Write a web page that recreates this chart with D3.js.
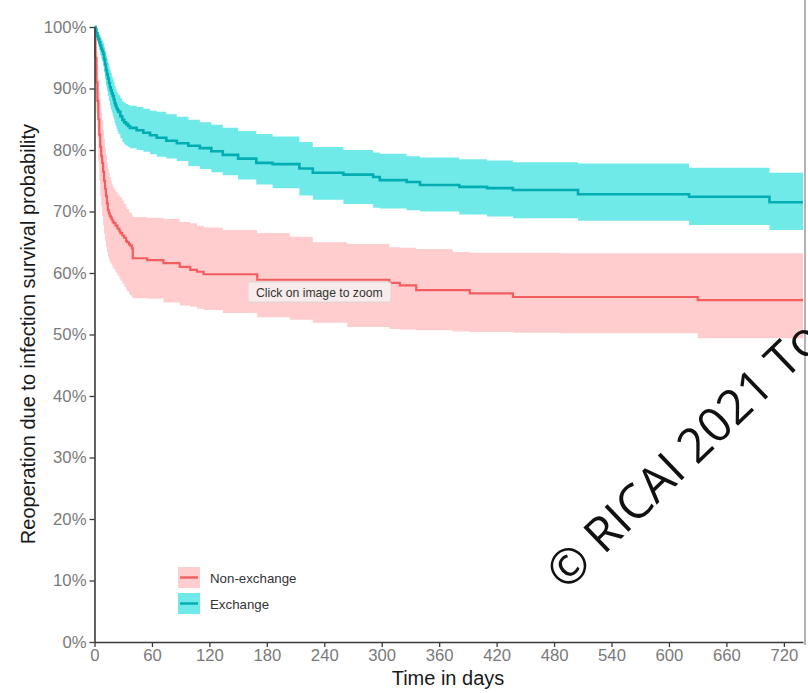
<!DOCTYPE html>
<html>
<head>
<meta charset="utf-8">
<script src="https://cdn.jsdelivr.net/npm/d3@7"></script>
<style>
  body { margin: 0; background: #fff; }
  svg { display: block; }
</style>
</head>
<body>
<svg id="chart" width="808" height="693"></svg>
<script>
// Exchange group (days, survival %, lower CI %, upper CI %)
const exTime  = [0, 1, 2, 3, 4, 5, 6, 7, 8, 9, 10, 11, 12, 13, 14, 15, 16, 17, 18, 19, 20, 21, 22, 23, 24, 25, 27, 29, 31, 33, 35, 37, 44, 51, 58, 65, 75, 86, 98, 110, 122, 134, 150, 169, 186, 214, 228, 260, 291, 298, 326, 340, 381, 410, 437, 505, 621, 705];
const exSurv  = [100, 99.6, 99, 98.5, 98, 97.5, 97, 96.5, 96.1, 95.6, 94.8, 93.9, 93, 92.3, 91.6, 90.9, 90.2, 89.7, 89.2, 88.8, 88.2, 87.6, 87.2, 86.8, 86.5, 86.2, 85.5, 84.9, 84.5, 84.2, 83.9, 83.6, 83.2, 82.8, 82.4, 82.0, 81.5, 81.1, 80.7, 80.3, 79.8, 79.2, 78.6, 77.9, 77.7, 77.0, 76.3, 76.0, 75.6, 75.1, 74.8, 74.3, 74.0, 73.8, 73.5, 72.8, 72.4, 71.5];
const exLower = [100, 99.3, 98.3, 97.6, 96.9, 96.2, 95.4, 94.8, 94.3, 93.6, 92.6, 91.5, 90.4, 89.6, 88.8, 88.0, 87.2, 86.6, 86.1, 85.6, 85.0, 84.4, 83.9, 83.4, 83.0, 82.6, 81.9, 81.3, 80.9, 80.7, 80.5, 80.3, 80.0, 79.7, 79.3, 78.9, 78.6, 78.2, 77.4, 76.9, 76.4, 75.9, 75.2, 74.4, 73.8, 72.6, 71.9, 71.2, 70.6, 70.5, 70.2, 70.0, 69.5, 69.2, 68.9, 68.5, 67.8, 67.0];
const exUpper = [100, 99.9, 99.6, 99.3, 99.0, 98.7, 98.4, 98.1, 97.8, 97.4, 96.8, 96.1, 95.4, 94.8, 94.2, 93.6, 93.0, 92.5, 92.0, 91.6, 91.0, 90.4, 89.9, 89.5, 89.2, 88.9, 88.4, 87.9, 87.7, 87.5, 87.3, 87.2, 87.0, 86.7, 86.4, 86.2, 85.8, 85.4, 84.9, 84.5, 84.1, 83.6, 83.1, 82.6, 82.2, 81.3, 80.5, 80.0, 79.6, 79.4, 79.0, 78.8, 78.5, 78.3, 78.0, 77.8, 77.1, 76.3];

// Non-exchange group
const neTime  = [0, 1, 2, 3, 4, 5, 6, 7, 8, 9, 10, 11, 12, 13, 14, 15, 16, 17, 18, 19, 20, 22, 24, 26, 27, 29, 31, 33, 34, 36, 37, 39, 40, 55, 72, 89, 100, 107, 114, 134, 170, 204, 228, 264, 308, 319, 336, 374, 392, 437, 486, 630];
const neSurv  = [100, 95, 91, 88, 85, 82.5, 80.5, 79, 77.9, 76.5, 75, 73.7, 72.5, 71.3, 70.2, 69.7, 69.3, 69, 68.7, 68.4, 68.1, 67.7, 67.2, 66.8, 66.5, 66.1, 65.7, 65.2, 65, 64.7, 64.5, 64, 62.4, 62.1, 61.6, 61.0, 60.5, 60.2, 59.8, 59.8, 58.9, 58.9, 58.9, 58.9, 58.4, 58.0, 57.2, 57.2, 56.7, 56.1, 56.1, 55.6];
const neLower = [100, 91.5, 86, 82, 78, 75, 72.5, 70.8, 69.3, 67.8, 66.4, 65.2, 64.2, 63.4, 62.7, 62.2, 61.8, 61.5, 61.2, 60.9, 60.6, 60.1, 59.6, 59.1, 58.8, 58.3, 57.8, 57.3, 57.0, 56.6, 56.4, 56.1, 55.9, 55.8, 55.2, 54.7, 54.5, 54.2, 54.0, 53.5, 52.8, 52.4, 51.9, 51.2, 50.9, 50.8, 50.7, 50.5, 50.4, 50.3, 50.2, 49.4];
const neUpper = [100, 98.5, 96, 93.8, 91.5, 89.5, 87.6, 86, 84.6, 83.2, 81.8, 80.4, 79.2, 78, 76.9, 76.2, 75.6, 75, 74.5, 74.1, 73.7, 73.2, 72.8, 72.5, 72.3, 71.8, 71.2, 70.7, 70.4, 70.0, 69.8, 69.4, 69.1, 69.0, 68.8, 68.3, 68.1, 67.7, 67.4, 67.0, 66.5, 65.9, 65.0, 64.7, 64.2, 64.1, 63.9, 63.4, 63.3, 63.3, 63.2, 63.2];

const xTicks = d3.range(0, 721, 60);
const yTicks = d3.range(0, 101, 10);
const seriesNames = ['Non-exchange', 'Exchange'];
const tMax = 740;

const svg = d3.select('#chart');
const x = d3.scaleLinear().domain([0, tMax]).range([94.5, 803]);
const y = d3.scaleLinear().domain([0, 100]).range([642, 27]);

const toRows = (t, s, lo, hi) => t.map((d, i) => ({ t: d, s: s[i], lo: lo[i], hi: hi[i] }))
  .concat([{ t: tMax, s: s[s.length - 1], lo: lo[lo.length - 1], hi: hi[hi.length - 1] }]);

const groups = [
  { name: seriesNames[0], rows: toRows(neTime, neSurv, neLower, neUpper), line: '#f35d60', band: '#ffcdcd' },
  { name: seriesNames[1], rows: toRows(exTime, exSurv, exLower, exUpper), line: '#00adb3', band: '#70e9e9' }
];

const area = d3.area().curve(d3.curveStepAfter)
  .x(d => x(d.t)).y0(d => y(d.lo)).y1(d => y(d.hi));
const line = d3.line().curve(d3.curveStepAfter)
  .x(d => x(d.t)).y(d => y(d.s));

const plot = svg.append('g');
plot.selectAll('.band').data(groups).join('path')
  .attr('class', 'band')
  .attr('d', g => area(g.rows))
  .attr('fill', g => g.band);
plot.selectAll('.curve').data(groups).join('path')
  .attr('class', 'curve')
  .attr('d', g => line(g.rows))
  .attr('fill', 'none')
  .attr('stroke', g => g.line)
  .attr('stroke-width', (g, i) => i ? 2.6 : 2.2);

// axes
const xAxis = svg.append('g').attr('transform', 'translate(0,642)')
  .call(d3.axisBottom(x).tickValues(xTicks).tickSize(5).tickPadding(2).tickSizeOuter(0));
const yAxis = svg.append('g').attr('transform', 'translate(94.5,0)')
  .call(d3.axisLeft(y).tickValues(yTicks).tickSize(5).tickPadding(3).tickSizeOuter(0)
    .tickFormat(d => d + '%'));
[xAxis, yAxis].forEach(a => {
  a.select('.domain').attr('stroke', '#3a3a3a').attr('stroke-width', 1.6);
  a.selectAll('.tick line').attr('stroke', '#3a3a3a').attr('stroke-width', 1.3);
  a.selectAll('.tick text').attr('fill', '#7a7a7a')
    .style('font-family', '"Liberation Sans", Arial, sans-serif').style('font-size', '16.7px');
});

// right frame line
svg.append('line').attr('x1', 805).attr('x2', 805).attr('y1', 0).attr('y2', 645)
  .attr('stroke', '#9a9a9a').attr('stroke-width', 1.5);

// axis titles
svg.append('text').attr('x', 448).attr('y', 685).attr('text-anchor', 'middle')
  .style('font-family', '"Liberation Sans", Arial, sans-serif').style('font-size', '20px')
  .attr('fill', '#1a1a1a').text('Time in days');
svg.append('text').attr('transform', 'translate(35,334) rotate(-90)').attr('text-anchor', 'middle')
  .style('font-family', '"Liberation Sans", Arial, sans-serif').style('font-size', '20px')
  .attr('fill', '#1a1a1a').text('Reoperation due to infection survival probability');

// legend
const legend = svg.append('g').attr('transform', 'translate(178,567)');
const item = legend.selectAll('g').data(groups).join('g')
  .attr('transform', (d, i) => `translate(0,${i * 26})`);
item.append('rect').attr('width', 22).attr('height', 21).attr('fill', d => d.band);
item.append('line').attr('x1', 2).attr('x2', 20).attr('y1', 10.5).attr('y2', 10.5)
  .attr('stroke', d => d.line).attr('stroke-width', 2.4);
item.append('text').attr('x', 32).attr('y', 15.5).text(d => d.name)
  .style('font-family', '"Liberation Sans", Arial, sans-serif').style('font-size', '13.3px')
  .attr('fill', '#333');

// "click to zoom" tooltip
const tip = svg.append('g').attr('transform', 'translate(248,282)');
tip.append('rect').attr('width', 143).attr('height', 20).attr('rx', 2)
  .attr('fill', '#f6eeee').attr('fill-opacity', 0.92).attr('stroke', '#dcd6d6');
tip.append('text').attr('x', 8).attr('y', 14.5).text('Click on image to zoom')
  .style('font-family', '"Liberation Sans", Arial, sans-serif').style('font-size', '12.2px')
  .attr('fill', '#333');

// watermark (runs off the right edge, as in the source image)
svg.append('text').attr('transform', 'translate(566,592) rotate(-44)')
  .style('font-family', '"Open Sans", "Noto Sans", sans-serif').style('font-size', '48px')
  .attr('fill', '#111').text('© RICAI 2021 To');
</script>
</body>
</html>
